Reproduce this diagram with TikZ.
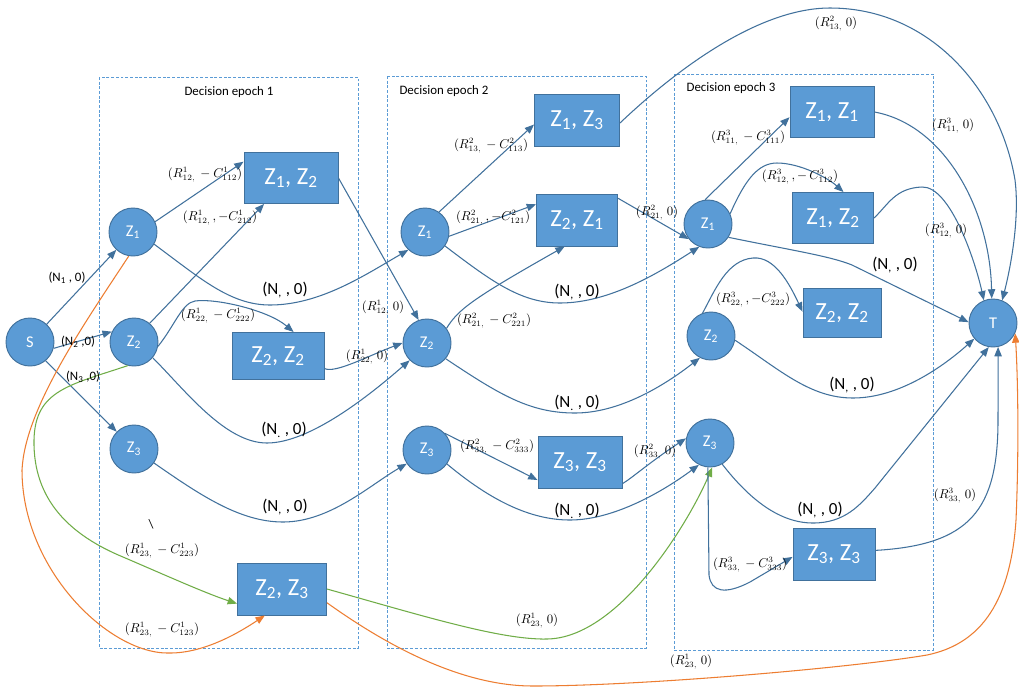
\documentclass[tikz,border=0pt]{standalone}
\usepackage{fontspec}
\setmainfont{Carlito}
\usetikzlibrary{arrows.meta,calc}
\definecolor{nodefill}{HTML}{5B9BD5}
\definecolor{nodeline}{HTML}{41719C}
\definecolor{edgecol}{HTML}{41719C}
\definecolor{dashcol}{HTML}{5B9BD5}
\definecolor{orng}{HTML}{ED7D31}
\definecolor{grn}{HTML}{70AD47}
\newcommand{\zpair}[2]{Z\textsubscript{#1}, Z\textsubscript{#2}}
\tikzset{
  st/.style={circle, fill=nodefill, draw=nodeline, line width=0.8pt, minimum size=1.44cm, inner sep=0pt, text=white, font=\fontsize{14}{16}\selectfont},
  bx/.style={rectangle, fill=nodefill, draw=nodeline, line width=0.8pt, inner sep=0pt, text=white, font=\fontsize{21}{24}\selectfont},
  arr/.style={draw=edgecol, line width=0.9pt, -{Triangle[length=2.8mm,width=2.2mm]}},
  arrg/.style={draw=grn, line width=0.9pt, -{Triangle[length=2.8mm,width=2.2mm]}},
  arro/.style={draw=orng, line width=0.9pt, -{Triangle[length=2.8mm,width=2.2mm]}},
  lbl/.style={font=\fontsize{10.5}{12}\selectfont, inner sep=0pt},
  nlbl/.style={font=\fontsize{14.5}{17}\selectfont, inner sep=0pt},
  slbl/.style={font=\fontsize{11}{13}\selectfont, inner sep=0pt},
  epochbox/.style={draw=dashcol, dash pattern=on 2.5pt off 1.5pt, line width=0.8pt},
  ttl/.style={font=\fontsize{11}{13}\selectfont, inner sep=0pt},
}
\begin{document}
\begin{tikzpicture}[x=0.03cm,y=-0.03cm]
\fill[white] (0,0) rectangle (1019,687);
\useasboundingbox (0,0) rectangle (1019,687);

% epoch frames
\draw[epochbox] (99,77) rectangle (358,648);
\draw[epochbox] (387,76) rectangle (646,648);
\draw[epochbox] (674,74) rectangle (933,650);
\node[ttl] (t1) at (229,92) {Decision epoch 1};
\node[ttl] (t2) at (444,91) {Decision epoch 2};
\node[ttl] (t3) at (731,88) {Decision epoch 3};

% circles
\node[st] (S) at (30,342) {S};
\node[st] (a1) at (133,232) {Z\textsubscript{1}};
\node[st] (a2) at (134,342) {Z\textsubscript{2}};
\node[st] (a3) at (134,449) {Z\textsubscript{3}};
\node[st] (b1) at (425,232) {Z\textsubscript{1}};
\node[st] (b2) at (427,343) {Z\textsubscript{2}};
\node[st] (b3) at (427,450) {Z\textsubscript{3}};
\node[st] (c1) at (708,224) {Z\textsubscript{1}};
\node[st] (c2) at (711,336) {Z\textsubscript{2}};
\node[st] (c3) at (710,443) {Z\textsubscript{3}};
\node[st] (T) at (993,323) {T};

% boxes
\node[bx, minimum width=2.82cm, minimum height=1.53cm] (A12) at (291,178) {\zpair{1}{2}};
\node[bx, minimum width=2.76cm, minimum height=1.41cm] (A22) at (278,356) {\zpair{2}{2}};
\node[bx, minimum width=2.67cm, minimum height=1.56cm] (A23) at (282,589) {\zpair{2}{3}};
\node[bx, minimum width=2.55cm, minimum height=1.56cm] (B13) at (577,120) {\zpair{1}{3}};
\node[bx, minimum width=2.43cm, minimum height=1.56cm] (B21) at (577,220) {\zpair{2}{1}};
\node[bx, minimum width=2.52cm, minimum height=1.56cm] (B33) at (580,462) {\zpair{3}{3}};
\node[bx, minimum width=2.52cm, minimum height=1.53cm] (C11) at (832,112) {\zpair{1}{1}};
\node[bx, minimum width=2.43cm, minimum height=1.53cm] (C12) at (833,218) {\zpair{1}{2}};
\node[bx, minimum width=2.34cm, minimum height=1.47cm] (C22) at (842,313) {\zpair{2}{2}};
\node[bx, minimum width=2.46cm, minimum height=1.56cm] (C33) at (834,554) {\zpair{3}{3}};

% epoch 1 connectors
\draw[arr] (S) -- (a1);
\draw[arr] (S.-15) -- (a2.155);
\draw[arr] (S.-50) -- (a3.135);
\draw[arr] (a1.25) -- (A12.161);
\draw[arr] (a2.50) -- (A12.-136);
\draw[arr] (a2.-10) .. controls (175,325) and (182,303) .. (195,301) .. controls (215,298) and (268,310) .. (A22.57);
\draw[arr] (a1.-30) .. controls (200,278) and (230,305) .. (270,305) .. controls (320,305) and (365,275) .. (b1.-133);
\draw[arr] (a2.-40) .. controls (185,390) and (225,443) .. (267,443) .. controls (310,443) and (370,395) .. (b2.-135);
\draw[arr] (a3.-35) .. controls (200,495) and (240,522) .. (283,522) .. controls (330,522) and (370,485) .. (b3.-146);
\draw[arr] (A12.east) -- (b2.110);
\draw[arr] (A22.-15) .. controls (335,374) and (370,355) .. (b2.180);
\draw[arrg] (a2.-105) .. controls (70,385) and (35,390) .. (34,440) .. controls (33,500) and (70,535) .. (123,557) .. controls (165,575) and (205,593) .. (A23.-162);
\draw[arro] (a1.-100) .. controls (80,330) and (25,410) .. (22,470) .. controls (22,570) and (110,655) .. (170,653) .. controls (205,653) and (240,632) .. (A23.-123);
\draw[arrg] (A23.east) .. controls (420,615) and (500,640) .. (547,639) .. controls (620,638) and (690,520) .. (c3.-85);
\draw[arro] (A23.-17) .. controls (400,655) and (470,686) .. (533,686) .. controls (640,686) and (850,668) .. (927,655) .. controls (975,645) and (1010,610) .. (1016,520) .. controls (1019,450) and (1018,380) .. (T.-25);

% epoch 2 connectors
\draw[arr] (b1.55) -- (B13.-174);
\draw[arr] (b1.-10) -- (B21.159);
\draw[arr] (b2.37) .. controls (458,310) and (470,300) .. (B21.-115);
\draw[arr] (b1.-35) .. controls (490,280) and (520,303) .. (560,303) .. controls (610,303) and (660,272) .. (c1.-111);
\draw[arr] (b2.-40) .. controls (500,395) and (530,413) .. (575,413) .. controls (620,413) and (665,385) .. (c2.-117);
\draw[arr] (b3.43) -- (B33.-157);
\draw[arr] (b3.-35) .. controls (490,500) and (530,520) .. (570,520) .. controls (615,520) and (665,490) .. (c3.-117);
\draw[arr] (B21.28) -- (c1.-142);
\draw[arr] (B33.-27) .. controls (632,478) and (650,462) .. (c3.169);
\draw[arr] (B13.-4) .. controls (660,85) and (750,8) .. (830,8) .. controls (930,8) and (1000,90) .. (1015,180) .. controls (1020,220) and (1010,270) .. (T.68);

% epoch 3 connectors
\draw[arr] (c1.97) -- (C11.-173);
\draw[arr] (c1.25) .. controls (745,180) and (758,163) .. (777,163) .. controls (800,163) and (828,178) .. (C12.68);
\draw[arr] (c1.-33) .. controls (790,250) and (830,256) .. (852,265) -- (T.178);
\draw[arr] (c2.110) .. controls (715,290) and (727,260) .. (753,258) .. controls (775,256) and (790,285) .. (C22.178);
\draw[arr] (c2.-10) .. controls (780,370) and (810,398) .. (853,398) .. controls (900,398) and (945,365) .. (T.-140);
\draw[arr] (c3.-60) .. controls (750,500) and (780,523) .. (813,523) .. controls (845,523) and (860,505) .. (875,488) -- (T.-100);
\draw[arr] (c3.-95) -- (709,575) .. controls (711,592) and (725,595) .. (750,582) -- (C33.-176);
\draw[arr] (C11.east) .. controls (945,125) and (990,210) .. (T.93);
\draw[arr] (C12.east) .. controls (888,205) and (895,188) .. (922,187) .. controls (950,186) and (975,260) .. (T.112);
\draw[arr] (C33.5) .. controls (970,545) and (998,510) .. (998,420) -- (T.-78);

% small labels
\node[slbl] (n1) at (67,278) {(N\textsubscript{1} , 0)};
\node[slbl] (n2) at (78,342) {(N\textsubscript{2} ,0)};
\node[slbl] (n3) at (83,377) {(N\textsubscript{3} ,0)};
\node[slbl] (bs) at (151,524) {\textbackslash};

% (N,,0) labels
\node[nlbl] (m1) at (285,290) {(N\textsubscript{,} , 0)};
\node[nlbl] (m2) at (284,430) {(N\textsubscript{.} , 0)};
\node[nlbl] (m3) at (285,507) {(N\textsubscript{,} , 0)};
\node[nlbl] (m4) at (577,292) {(N\textsubscript{,} , 0)};
\node[nlbl] (m5) at (577,403) {(N\textsubscript{.} , 0)};
\node[nlbl] (m6) at (577,511) {(N\textsubscript{.} , 0)};
\node[nlbl] (m7) at (895,265) {(N\textsubscript{,} , 0)};
\node[nlbl] (m8) at (852,385) {(N\textsubscript{,} , 0)};
\node[nlbl] (m9) at (820,510) {(N\textsubscript{,} , 0)};

% math labels
\node[lbl] (r1) at (205,175) {$(R^{1}_{12,}\, -C^{1}_{112})$};
\node[lbl] (r2) at (220,218) {$(R^{1}_{12,}\,, -C^{1}_{212})$};
\node[lbl] (r3) at (218,316) {$(R^{1}_{22,}\, -C^{1}_{222})$};
\node[lbl] (r4) at (162,551) {$(R^{1}_{23,}\, -C^{1}_{223})$};
\node[lbl] (r5) at (162,630) {$(R^{1}_{23,}\, -C^{1}_{123})$};
\node[lbl] (r6) at (383,308) {$(R^{1}_{12,}\; 0)$};
\node[lbl] (r7) at (367,357) {$(R^{1}_{22,}\; 0)$};
\node[lbl] (r8) at (491,146) {$(R^{2}_{13,}\, -C^{2}_{113})$};
\node[lbl] (r9) at (493,218) {$(R^{2}_{21,}\,, -C^{2}_{121})$};
\node[lbl] (r10) at (494,321) {$(R^{2}_{21,}\, -C^{2}_{221})$};
\node[lbl] (r11) at (497,447) {$(R^{2}_{33,}\, -C^{2}_{333})$};
\node[lbl] (r12) at (657,213) {$(R^{2}_{21,}\; 0)$};
\node[lbl] (r13) at (655,452) {$(R^{2}_{33,}\; 0)$};
\node[lbl] (r14) at (836,24) {$(R^{2}_{13,}\; 0)$};
\node[lbl] (r15) at (748,138) {$(R^{3}_{11,}\, -C^{3}_{111})$};
\node[lbl] (r16) at (800,177) {$(R^{3}_{12,}\,, -\,C^{3}_{112})$};
\node[lbl] (r17) at (953,126) {$(R^{3}_{11,}\; 0)$};
\node[lbl] (r18) at (946,231) {$(R^{3}_{12,}\; 0)$};
\node[lbl] (r19) at (753,300) {$(R^{3}_{22,}\,, -C^{3}_{222})$};
\node[lbl] (r20) at (750,565) {$(R^{3}_{33,}\, -C^{3}_{333})$};
\node[lbl] (r21) at (955,496) {$(R^{3}_{33,}\; 0)$};
\node[lbl] (r22) at (691,662) {$(R^{1}_{23,}\; 0)$};
\node[lbl] (r23) at (537,621) {$(R^{1}_{23,}\; 0)$};
\end{tikzpicture}
\end{document}
